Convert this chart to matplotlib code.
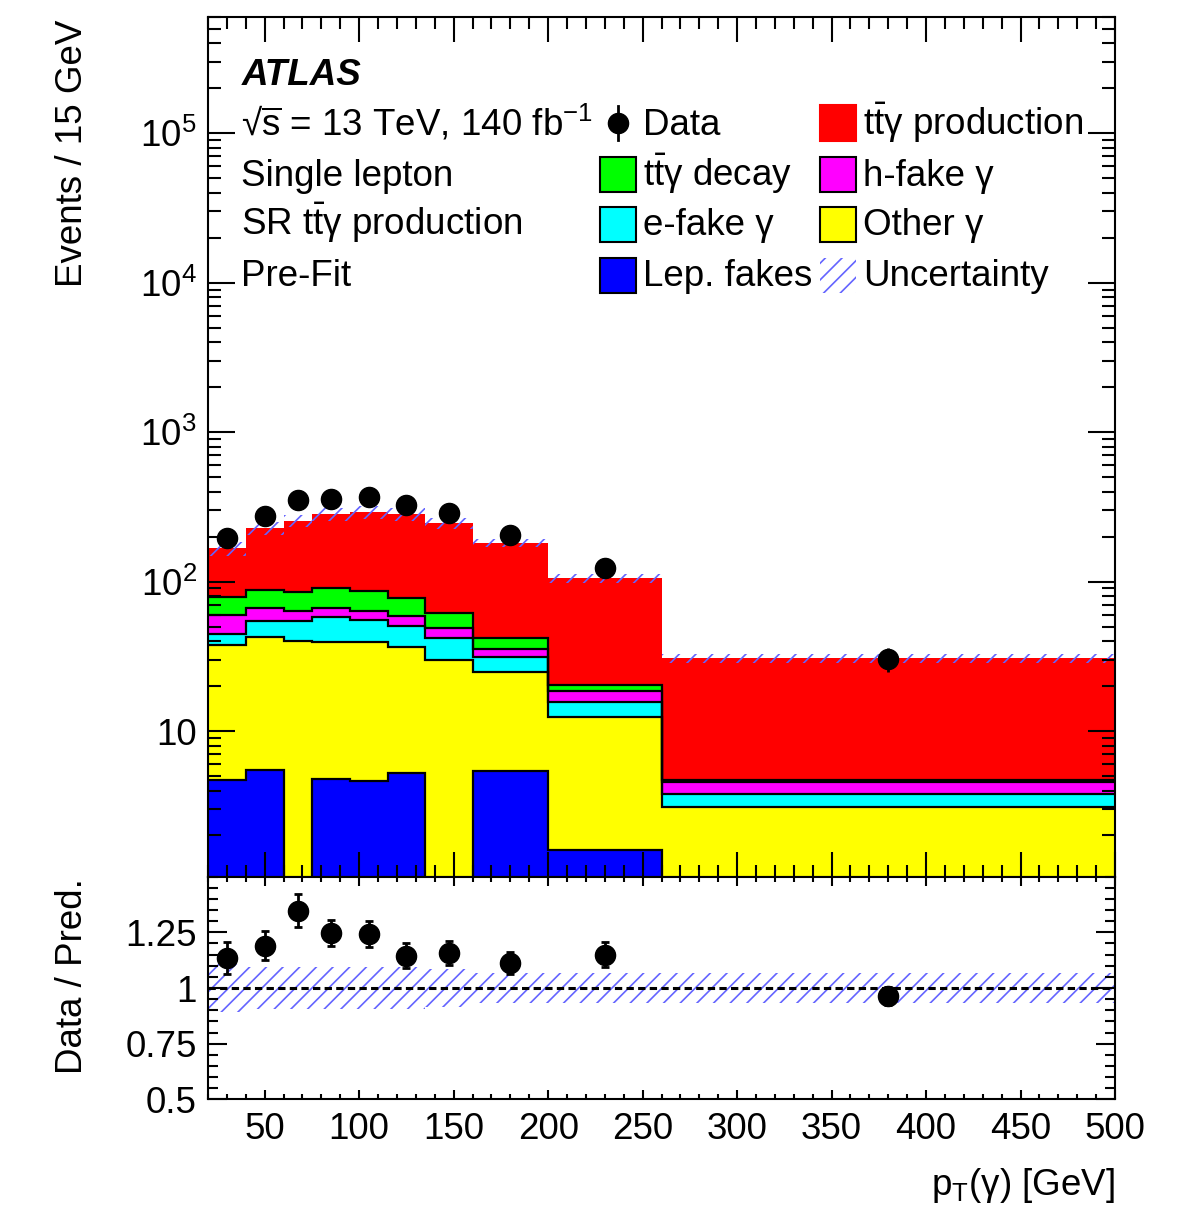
import numpy as np
import matplotlib.pyplot as plt
from matplotlib.patches import Rectangle
from matplotlib.lines import Line2D
from matplotlib.ticker import FuncFormatter, LogLocator, MultipleLocator, FixedLocator

plt.rcParams['font.family'] = 'Liberation Sans'
plt.rcParams['mathtext.fontset'] = 'custom'
plt.rcParams['mathtext.rm'] = 'Liberation Sans'
plt.rcParams['mathtext.it'] = 'Liberation Sans:italic'
plt.rcParams['mathtext.bf'] = 'Liberation Sans:bold'
plt.rcParams['hatch.linewidth'] = 1.2

# binning in pT(gamma) [GeV]
edges = [20, 40, 60, 75, 95, 115, 135, 160, 200, 260, 500]

# pre-fit yields per process (stack order bottom -> top)
lep_fakes = [4.7, 5.5, 0.0, 4.8, 4.6, 5.2, 0.0, 5.4, 1.6, 0.0]
other_gam = [33.1, 37.0, 40.3, 34.5, 34.7, 31.2, 29.9, 19.4, 10.8, 3.1]
efake_gam = [6.9, 12.3, 14.0, 18.5, 16.2, 14.4, 12.3, 6.7, 3.3, 0.68]
hfake_gam = [15.2, 11.6, 9.7, 8.6, 8.2, 8.2, 7.0, 3.8, 2.7, 0.77]
tty_decay = [19.5, 21.6, 21.8, 24.8, 22.9, 18.4, 12.9, 6.5, 2.0, 0.17]
tty_prod = [88, 140, 169, 191, 204, 205, 184, 140, 85, 26]

# relative uncertainty of total prediction
rel_unc = [0.107, 0.095, 0.095, 0.095, 0.095, 0.095, 0.085, 0.067, 0.067, 0.067]

# data
data = [195, 276, 352, 357, 367, 326, 290, 205, 123, 30.3]
ratio = [1.135, 1.19, 1.348, 1.247, 1.244, 1.145, 1.157, 1.112, 1.15, 0.965]
ratio_err = [0.072, 0.064, 0.073, 0.058, 0.058, 0.056, 0.055, 0.05, 0.055, 0.04]

t_bar = r't$\bar{\mathrm{t}}$'
procs = [
    (lep_fakes, '#0000ff', 'Lep. fakes'),
    (other_gam, '#ffff00', 'Other γ'),
    (efake_gam, '#00ffff', 'e-fake γ'),
    (hfake_gam, '#ff00ff', 'h-fake γ'),
    (tty_decay, '#00ff00', t_bar + 'γ decay'),
    (tty_prod, '#ff0000', t_bar + 'γ production'),
]
hatch_col = '#6464ff'

W, H = 1193, 1210
FS = 26.5


def fx(x):
    return x / W


def fy(y):
    return 1 - y / H


edges = np.array(edges)
centers = 0.5 * (edges[:-1] + edges[1:])
tops = np.cumsum([np.array(p[0]) for p in procs], axis=0)
total = tops[-1]
unc = np.array(rel_unc)

fig = plt.figure(figsize=(W / 100, H / 100), dpi=100)
ax = fig.add_axes([fx(208), fy(876.7), fx(1115) - fx(208), fy(17) - fy(876.7)])
rax = fig.add_axes([fx(208), fy(1099.3), fx(1115) - fx(208), fy(876.7) - fy(1099.3)])

YMIN, YMAX = 1.06, 6e5
ax.set_yscale('log')

# stack: draw from the top layer down
for i in range(len(procs) - 1, -1, -1):
    ax.stairs(tops[i], edges, baseline=YMIN / 10, fill=True, color=procs[i][1], lw=0)
for i in range(len(procs) - 1):
    ax.stairs(tops[i], edges, baseline=None, color='black', lw=1.6)

ax.stairs(total * (1 + unc), edges, baseline=total * (1 - unc), fill=True,
          facecolor='none', edgecolor=hatch_col, lw=0, hatch='//')
ax.errorbar(centers, data, yerr=np.sqrt(data), fmt='o', color='black', ms=14.5,
            elinewidth=2, capsize=0)

ax.set_xlim(20, 500)
ax.set_ylim(YMIN, YMAX)
ax.yaxis.set_major_locator(LogLocator(base=10, numticks=20))
ax.yaxis.set_minor_locator(LogLocator(base=10, subs=np.arange(2, 10), numticks=20))
ax.yaxis.set_major_formatter(FuncFormatter(
    lambda v, _: '10' if abs(v - 10) < 1e-6 else r'$\mathrm{10^{%d}}$' % round(np.log10(v))))
ax.yaxis.set_minor_formatter(FuncFormatter(lambda v, _: ''))

# ratio panel
rax.stairs(1 + unc, edges, baseline=1 - unc, fill=True, facecolor='none',
           edgecolor=hatch_col, lw=0, hatch='//')
rax.axhline(1, color='black', lw=2.2, ls=(0, (2.4, 1.4)))
rax.errorbar(centers, ratio, yerr=ratio_err, fmt='o', color='black', ms=14.5,
             elinewidth=2, capsize=3, capthick=2)
rax.set_xlim(20, 500)
rax.set_ylim(0.5, 1.5)
rax.yaxis.set_major_locator(FixedLocator([0.5, 0.75, 1.0, 1.25]))
rax.yaxis.set_minor_locator(MultipleLocator(0.05))
rax.yaxis.set_major_formatter(FuncFormatter(lambda v, _: f'{v:g}'))

for a in (ax, rax):
    a.xaxis.set_major_locator(MultipleLocator(50))
    a.xaxis.set_minor_locator(MultipleLocator(10))
    a.tick_params(which='both', direction='in', top=True, right=True, width=1.5,
                  labelsize=FS)
    for s in a.spines.values():
        s.set_linewidth(1.5)
ax.tick_params(labelbottom=False)
ax.tick_params(axis='y', which='major', length=19.5, pad=8)
ax.tick_params(axis='y', which='minor', length=9.5)
ax.tick_params(axis='x', which='major', length=18)
ax.tick_params(axis='x', which='minor', length=8.6)
rax.tick_params(axis='y', which='major', length=14, pad=8)
rax.tick_params(axis='y', which='minor', length=7)
rax.tick_params(axis='x', which='major', length=6.5, pad=9)
rax.tick_params(axis='x', which='minor', length=3.6)

# axis titles
fig.text(fx(72), fy(20), 'Events / 15 GeV', rotation=90, ha='center', va='top', fontsize=FS)
fig.text(fx(72), fy(878), 'Data / Pred.', rotation=90, ha='center', va='top', fontsize=FS)
fig.text(fx(1115), fy(1195), r'p$_{\mathrm{T}}$(γ) [GeV]', ha='right', va='baseline', fontsize=FS)

# labels
fig.text(fx(242), fy(85), 'ATLAS', weight='bold', style='italic', fontsize=FS, va='baseline')
info = [r'√$\overline{\mathrm{s}}$ = 13 TeV, 140 fb$^{\mathrm{-1}}$', 'Single lepton',
        'SR ' + t_bar + 'γ production', 'Pre-Fit']
baselines = [135, 186, 235, 286]
for txt, b in zip(info, baselines):
    fig.text(fx(241), fy(b), txt, fontsize=FS, va='baseline')

# legend (two columns)
box_w, box_h = 36, 35
rows = [123, 174, 224, 275]
col_x = [600, 820]
entries = [('data', None, 'Data'),
           ('box', procs[4][1], procs[4][2]),
           ('box', procs[2][1], procs[2][2]),
           ('box', procs[0][1], procs[0][2]),
           ('box', procs[5][1], procs[5][2]),
           ('box', procs[3][1], procs[3][2]),
           ('box', procs[1][1], procs[1][2]),
           ('hatch', None, 'Uncertainty')]
for k, (kind, col, lab) in enumerate(entries):
    c, r = divmod(k, 4)
    x0, yc = col_x[c], rows[r]
    if kind == 'data':
        fig.add_artist(Line2D([fx(x0 + box_w / 2)] * 2, [fy(yc - 17), fy(yc + 17)],
                              color='black', lw=2, transform=fig.transFigure))
        fig.add_artist(Line2D([fx(x0 + box_w / 2)], [fy(yc)], marker='o', ms=14.5,
                              color='black', transform=fig.transFigure))
    elif kind == 'box':
        ec = col if col == '#ff0000' else 'black'
        fig.add_artist(Rectangle((fx(x0), fy(yc + box_h / 2)), fx(box_w), box_h / H,
                                 facecolor=col, edgecolor=ec, lw=1.5,
                                 transform=fig.transFigure))
    else:
        fig.add_artist(Rectangle((fx(x0), fy(yc + box_h / 2)), fx(box_w), box_h / H,
                                 facecolor='none', edgecolor=hatch_col, lw=0, hatch='//',
                                 transform=fig.transFigure))
    fig.text(fx(x0 + box_w + 7), fy(baselines[r]), lab, fontsize=FS, va='baseline')

fig.savefig('out.png', dpi=100)
